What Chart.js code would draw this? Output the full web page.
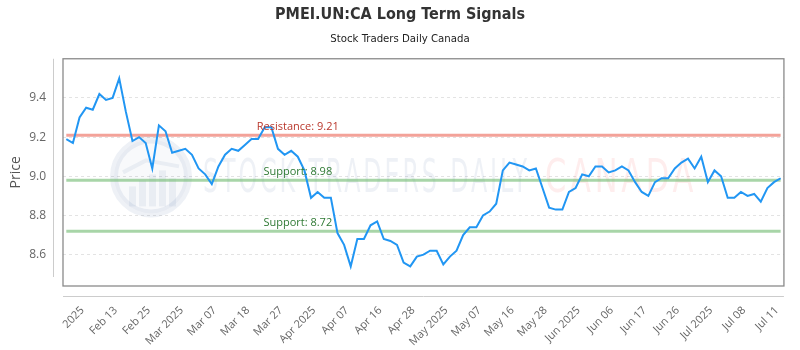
<!DOCTYPE html>
<html>
<head>
<meta charset="utf-8">
<script src="https://cdn.jsdelivr.net/npm/chart.js@4.4.1/dist/chart.umd.min.js"></script>
<style>
html,body{margin:0;padding:0;background:#fff;}
canvas{display:block;}
</style>
</head>
<body>
<canvas id="c" width="800" height="350"></canvas>
<script>
// ---- data ----
const prices = [
  9.19, 9.17, 9.30, 9.35, 9.34, 9.42, 9.39, 9.40, 9.50, 9.33,
  9.18, 9.20, 9.17, 9.04, 9.26, 9.23, 9.12, 9.13, 9.14, 9.11,
  9.04, 9.01, 8.96, 9.05, 9.11, 9.14, 9.13, 9.16, 9.19, 9.19,
  9.25, 9.25, 9.14, 9.11, 9.13, 9.10, 9.03, 8.89, 8.92, 8.89,
  8.89, 8.71, 8.65, 8.54, 8.68, 8.68, 8.75, 8.77, 8.68, 8.67,
  8.65, 8.56, 8.54, 8.59, 8.60, 8.62, 8.62, 8.55, 8.59, 8.62,
  8.70, 8.74, 8.74, 8.80, 8.82, 8.86, 9.03, 9.07, 9.06, 9.05,
  9.03, 9.04, 8.94, 8.84, 8.83, 8.83, 8.92, 8.94, 9.01, 9.00,
  9.05, 9.05, 9.02, 9.03, 9.05, 9.03, 8.97, 8.92, 8.90, 8.97,
  8.99, 8.99, 9.04, 9.07, 9.09, 9.04, 9.10, 8.97, 9.03, 9.00,
  8.89, 8.89, 8.92, 8.90, 8.91, 8.87, 8.94, 8.97, 8.99
];
const tickLabels = [
  "2025", "Feb 13", "Feb 25", "Mar 2025", "Mar 07", "Mar 18", "Mar 27",
  "Apr 2025", "Apr 07", "Apr 16", "Apr 28", "May 2025", "May 07", "May 16",
  "May 28", "Jun 2025", "Jun 06", "Jun 17", "Jun 26", "Jul 2025", "Jul 08", "Jul 11"
];
const firstTickIndex = 2;
const tickEvery = 5;
const yTicks = [8.6, 8.8, 9.0, 9.2, 9.4];
const yMin = 8.44;
const yMax = 9.60;
const levelNames = ["Resistance", "Support", "Support"];
const levelValues = [9.21, 8.98, 8.72];
const levelLabelIndex = 35;

// category keys: tick label at every tickEvery-th point, blank elsewhere
const categories = prices.map((_, i) =>
  (i >= firstTickIndex && (i - firstTickIndex) % tickEvery === 0)
    ? tickLabels[(i - firstTickIndex) / tickEvery] : "");

const levelLineColors = ["rgba(236,112,99,0.65)", "rgba(110,185,110,0.6)", "rgba(110,185,110,0.6)"];
const levelTextColors = ["#b9372c", "#2f7a34", "#2f7a34"];
const narrow = '"Liberation Sans Narrow", "DejaVu Sans Condensed", sans-serif';

const decor = {
  id: 'decor',
  beforeDatasetsDraw(chart) {
    const {ctx, chartArea: a} = chart;
    const cy = (a.top + a.bottom) / 2 + 4;
    ctx.save();
    // logo circle
    const cx = a.left + 88;
    ctx.beginPath();
    ctx.arc(cx, cy, 37, 0, Math.PI * 2);
    ctx.fillStyle = 'rgba(30,70,140,0.03)';
    ctx.fill();
    ctx.lineWidth = 8;
    ctx.strokeStyle = 'rgba(30,70,140,0.075)';
    ctx.stroke();
    ctx.fillStyle = 'rgba(30,70,140,0.065)';
    const bars = [[-22, 10], [-12, 4], [-2, -2], [8, -6], [18, 2]];
    bars.forEach(([dx, top]) => ctx.fillRect(cx + dx, cy + top, 7, 30 - top));
    ctx.beginPath();
    ctx.moveTo(cx - 28, cy - 4);
    ctx.lineTo(cx - 5, cy - 16);
    ctx.lineTo(cx + 28, cy - 10);
    ctx.lineWidth = 4;
    ctx.strokeStyle = 'rgba(30,70,140,0.065)';
    ctx.stroke();
    // watermark text
    const base = cy + 16;
    ctx.font = '46px ' + narrow;
    ctx.textBaseline = 'alphabetic';
    ctx.textAlign = 'left';
    const drawFit = (txt, x0, w, color) => {
      const m = ctx.measureText(txt).width;
      ctx.save();
      ctx.translate(x0, base);
      ctx.scale(w / m, 1);
      ctx.fillStyle = color;
      ctx.fillText(txt, 0, 0);
      ctx.restore();
    };
    ctx.letterSpacing = '5px';
    drawFit('STOCK TRADERS DAILY', a.left + 140, 327, 'rgba(30,70,140,0.075)');
    drawFit('CANADA', a.left + 482, 152, 'rgba(240,60,60,0.09)');
    ctx.restore();
  },
  afterDatasetsDraw(chart) {
    const {ctx, scales: {x, y}} = chart;
    ctx.save();
    ctx.font = '11px "Open Sans", sans-serif';
    ctx.textAlign = 'center';
    ctx.textBaseline = 'middle';
    levelValues.forEach((v, k) => {
      ctx.fillStyle = levelTextColors[k];
      ctx.fillText(levelNames[k] + ': ' + v.toFixed(2), x.getPixelForValue(levelLabelIndex), y.getPixelForValue(v) - 8.5);
    });
    ctx.restore();
  },
  afterDraw(chart) {
    const {ctx, chartArea: a} = chart;
    ctx.save();
    ctx.strokeStyle = '#8a8a8a';
    ctx.lineWidth = 1.3;
    ctx.strokeRect(a.left, a.top, a.right - a.left, a.bottom - a.top);
    ctx.strokeStyle = '#cccccc';
    ctx.lineWidth = 1;
    ctx.beginPath();
    ctx.moveTo(a.left - 9.5, a.top);
    ctx.lineTo(a.left - 9.5, a.bottom - 9);
    ctx.moveTo(a.left, a.bottom + 10.5);
    ctx.lineTo(a.right, a.bottom + 10.5);
    ctx.stroke();
    ctx.restore();
  }
};

const datasets = [{
  label: 'Price', data: prices, borderColor: '#2196f3', borderWidth: 2,
  pointRadius: 0, tension: 0, fill: false, order: 0
}];
levelValues.forEach((v, k) => datasets.push({
  label: levelNames[k], data: prices.map(() => v), borderColor: levelLineColors[k],
  borderWidth: 3, pointRadius: 0, fill: false, order: 1
}));

new Chart(document.getElementById('c'), {
  type: 'line',
  data: { labels: categories, datasets },
  options: {
    responsive: false,
    animation: false,
    devicePixelRatio: 1,
    layout: { padding: 0 },
    plugins: {
      legend: { display: false },
      tooltip: { enabled: false },
      title: {
        display: true, text: 'PMEI.UN:CA Long Term Signals', color: '#333',
        font: { family: narrow, size: 16, weight: 'bold' },
        padding: { top: 5, bottom: 0 }
      },
      subtitle: {
        display: true, text: 'Stock Traders Daily Canada', color: '#222',
        font: { family: narrow, size: 11.3 },
        padding: { top: 8, bottom: 13 }
      }
    },
    scales: {
      x: {
        offset: true,
        grid: { display: false },
        border: { display: false },
        ticks: {
          autoSkip: false, minRotation: 45, maxRotation: 45, padding: 10, labelOffset: 3,
          color: '#666', font: { family: '"Open Sans", sans-serif', size: 11 }
        },
        afterFit(s) { s.height = 64; }
      },
      y: {
        min: yMin, max: yMax,
        afterBuildTicks(s) { s.ticks = yTicks.map(v => ({ value: v })); },
        grid: { color: '#e3e3e3', drawTicks: false },
        border: { display: false, dash: [3, 3] },
        ticks: {
          padding: 17, color: '#666', font: { family: '"Open Sans", sans-serif', size: 12 },
          callback: v => Number(v).toFixed(1)
        },
        title: {
          display: true, text: 'Price', color: '#555',
          font: { family: '"Open Sans", sans-serif', size: 14 },
          padding: { top: 8, bottom: 0 }
        },
        afterFit(s) { s.width = 63; }
      },
      yRight: {
        position: 'right', min: yMin, max: yMax,
        grid: { display: false }, border: { display: false },
        ticks: { display: false },
        afterFit(s) { s.width = 10; }
      }
    }
  },
  plugins: [decor]
});
</script>
</body>
</html>
